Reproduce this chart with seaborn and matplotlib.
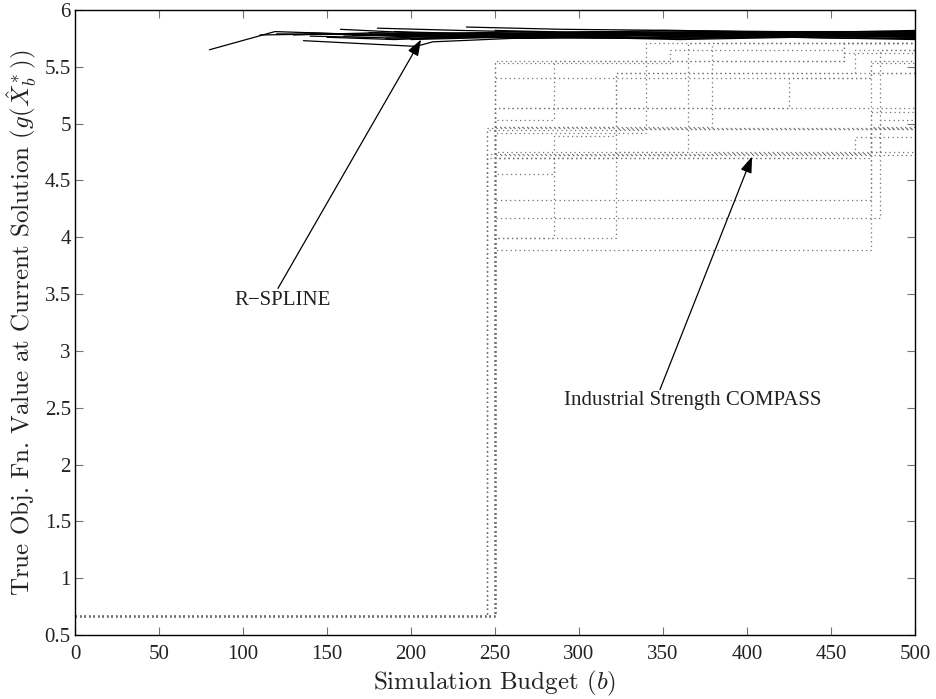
import matplotlib
matplotlib.use("Agg")
import matplotlib.pyplot as plt
import seaborn as sns
import pandas as pd
from matplotlib.ticker import FixedLocator, FuncFormatter

# ---------------- data ----------------
# R-SPLINE runs (piecewise linear)
rspline_x = [
    [80, 119, 160, 220, 300, 380, 450, 500],
    [110, 150, 200, 260, 340, 420, 500],
    [136, 203, 213, 260, 330, 400, 500],
    [136, 180, 240, 310, 390, 460, 500],
    [158, 200, 250, 320, 400, 470, 500],
    [180, 230, 290, 350, 420, 500],
    [233, 290, 360, 430, 500],
    [150, 190, 230, 290, 370, 440, 500],
    [165, 210, 260, 330, 410, 480, 500],
    [170, 215, 270, 340, 400, 470, 500],
    [185, 225, 280, 350, 430, 500],
    [190, 240, 300, 360, 440, 500],
    [195, 250, 310, 380, 450, 500],
    [200, 255, 330, 390, 460, 500],
    [205, 260, 320, 380, 440, 500],
    [210, 270, 340, 410, 480, 500],
    [215, 275, 345, 415, 500],
    [220, 280, 350, 420, 490, 500],
    [160, 220, 270, 330, 400, 500],
    [175, 235, 300, 370, 450, 500],
    [140, 200, 260, 330, 420, 500],
    [120, 190, 250, 320, 400, 500],
    [250, 310, 380, 460, 500],
    [300, 360, 430, 500],
    [130, 180, 240, 300, 380, 460, 500],
]
rspline_y = [
    [5.65, 5.81, 5.79, 5.78, 5.79, 5.78, 5.79, 5.78],
    [5.78, 5.79, 5.77, 5.79, 5.78, 5.80, 5.79],
    [5.73, 5.68, 5.72, 5.75, 5.76, 5.77, 5.77],
    [5.80, 5.78, 5.80, 5.79, 5.81, 5.80, 5.80],
    [5.83, 5.80, 5.79, 5.81, 5.80, 5.79, 5.80],
    [5.84, 5.82, 5.80, 5.82, 5.81, 5.81],
    [5.85, 5.83, 5.82, 5.80, 5.82],
    [5.76, 5.74, 5.76, 5.77, 5.75, 5.77, 5.76],
    [5.78, 5.76, 5.78, 5.76, 5.78, 5.77, 5.77],
    [5.79, 5.77, 5.75, 5.78, 5.77, 5.76, 5.78],
    [5.75, 5.78, 5.76, 5.75, 5.77, 5.76],
    [5.81, 5.79, 5.78, 5.80, 5.78, 5.79],
    [5.77, 5.79, 5.81, 5.78, 5.79, 5.78],
    [5.74, 5.76, 5.75, 5.77, 5.75, 5.75],
    [5.80, 5.78, 5.77, 5.79, 5.80, 5.78],
    [5.79, 5.81, 5.79, 5.78, 5.77, 5.79],
    [5.76, 5.77, 5.79, 5.78, 5.77],
    [5.78, 5.76, 5.78, 5.80, 5.78, 5.78],
    [5.77, 5.79, 5.77, 5.78, 5.76, 5.77],
    [5.80, 5.77, 5.79, 5.77, 5.78, 5.80],
    [5.77, 5.75, 5.77, 5.79, 5.79, 5.78],
    [5.79, 5.78, 5.76, 5.78, 5.80, 5.79],
    [5.82, 5.80, 5.81, 5.79, 5.81],
    [5.76, 5.74, 5.76, 5.74],
    [5.78, 5.80, 5.78, 5.77, 5.79, 5.78, 5.79],
]

# Industrial Strength COMPASS runs (step functions)
compass_x = [
    [0, 250, 474, 500],
    [0, 250, 322, 500],
    [0, 250, 285, 322, 464, 500],
    [0, 250, 479, 500],
    [0, 250, 474, 500],
    [0, 250, 285, 500],
    [0, 250, 464, 500],
    [0, 245, 474, 500],
    [0, 250, 365, 500],
    [0, 245, 340, 500],
    [0, 245, 500],
    [0, 250, 379, 500],
    [0, 250, 285, 458, 500],
    [0, 250, 425, 474, 500],
    [0, 250, 500],
    [0, 250, 474, 500],
    [0, 250, 354, 458, 500],
    [0, 250, 322, 479, 500],
    [0, 250, 340, 500],
    [0, 245, 474, 500],
    [0, 250, 379, 474, 500],
    [0, 250, 458, 500],
    [0, 250, 322, 500],
]
compass_y = [
    [0.67, 3.89, 5.45, 5.45],
    [0.67, 3.99, 4.95, 4.95],
    [0.67, 3.99, 4.89, 5.45, 5.65, 5.65],
    [0.67, 4.17, 5.65, 5.65],
    [0.67, 4.33, 4.97, 4.97],
    [0.67, 4.56, 4.72, 4.72],
    [0.67, 4.70, 4.88, 4.88],
    [0.67, 4.73, 4.75, 4.75],
    [0.67, 4.75, 5.71, 5.71],
    [0.67, 4.94, 5.71, 5.71],
    [0.67, 4.96, 4.96],
    [0.67, 4.97, 5.71, 5.71],
    [0.67, 5.03, 5.55, 5.71, 5.71],
    [0.67, 5.14, 5.40, 5.55, 5.55],
    [0.67, 5.14, 5.14],
    [0.67, 5.40, 5.53, 5.53],
    [0.67, 5.53, 5.65, 5.71, 5.71],
    [0.67, 4.70, 4.75, 5.03, 5.03],
    [0.67, 4.92, 4.95, 4.95],
    [0.67, 4.70, 4.96, 4.96],
    [0.67, 4.72, 4.74, 5.10, 5.10],
    [0.67, 5.55, 5.62, 5.62],
    [0.67, 4.97, 5.45, 5.45],
]

x_ticks = [0, 50, 100, 150, 200, 250, 300, 350, 400, 450, 500]
y_ticks = [0.5, 1, 1.5, 2, 2.5, 3, 3.5, 4, 4.5, 5, 5.5, 6]

label_rspline = "R\u2212SPLINE"
label_compass = "Industrial Strength COMPASS"
x_label = r"Simulation Budget ($b$)"
y_label = r"True Obj. Fn. Value at Current Solution ($g(\hat{X}_b^*)$)"

# ---------------- long-form tables ----------------
rs_rows = []
for i, (xs, ys) in enumerate(zip(rspline_x, rspline_y)):
    for xv, yv in zip(xs, ys):
        rs_rows.append({"run": i, "budget": xv, "value": yv})
df_rs = pd.DataFrame(rs_rows)

cp_rows = []
for i, (xs, ys) in enumerate(zip(compass_x, compass_y)):
    for xv, yv in zip(xs, ys):
        cp_rows.append({"run": i, "budget": xv, "value": yv})
df_cp = pd.DataFrame(cp_rows)

# ---------------- plot ----------------
sns.set_style("ticks")
plt.rcParams["mathtext.fontset"] = "cm"
plt.rcParams["axes.unicode_minus"] = False

fig = plt.figure(figsize=(9.36, 6.99), dpi=100)
ax = fig.add_axes([75 / 936, 64 / 699, 840 / 936, 625 / 699])

sns.lineplot(data=df_cp, x="budget", y="value", units="run", estimator=None,
             sort=False, drawstyle="steps-post", color="0.45",
             linestyle=(0, (1.0, 2.6)), linewidth=0.9, ax=ax, legend=False)
sns.lineplot(data=df_rs, x="budget", y="value", units="run", estimator=None,
             sort=False, color="black", linewidth=0.9, ax=ax, legend=False)

ax.set_xlim(0, 500)
ax.set_ylim(0.5, 6)
ax.xaxis.set_major_locator(FixedLocator(x_ticks))
ax.yaxis.set_major_locator(FixedLocator(y_ticks))
ax.yaxis.set_major_formatter(FuncFormatter(lambda v, p: f"{v:g}"))
ax.xaxis.set_major_formatter(FuncFormatter(lambda v, p: f"{v:g}"))

for s in ax.spines.values():
    s.set_visible(True)
    s.set_color("black")
    s.set_linewidth(1.0)

ax.tick_params(axis="both", direction="in", length=6, width=0.8, color="0.45",
               top=True, right=True)
ax.tick_params(axis="x", pad=7)
ax.tick_params(axis="y", pad=3)
for lab in ax.get_xticklabels() + ax.get_yticklabels():
    lab.set_fontfamily("Liberation Serif")
    lab.set_fontsize(15)
    lab.set_color("#222222")

ax.set_xlabel(x_label, fontfamily="cmr10", fontsize=18, color="#222222")
ax.set_ylabel(y_label, fontfamily="cmr10", fontsize=18, color="#222222")
ax.xaxis.set_label_coords(0.5, -0.055)
ax.yaxis.set_label_coords(-0.043, 0.5)
ax.xaxis.label.set_va("top")

arrow_kw = dict(arrowstyle="-|>,head_length=0.7,head_width=0.25",
                color="black", lw=0.9, shrinkA=0, shrinkB=0,
                mutation_scale=14)

ax.text(123.8, 3.40, label_rspline, fontfamily="Liberation Serif",
        fontsize=15, ha="center", va="baseline", color="#222222")
ax.annotate("", xy=(206, 5.74), xytext=(120.8, 3.55),
            xycoords="data", textcoords="data", arrowprops=arrow_kw)

ax.text(367.6, 2.52, label_compass, fontfamily="Liberation Serif",
        fontsize=15, ha="center", va="baseline", color="#222222")
ax.annotate("", xy=(403, 4.71), xytext=(348.2, 2.66),
            xycoords="data", textcoords="data", arrowprops=arrow_kw)

fig.savefig("out.png", dpi=100)
